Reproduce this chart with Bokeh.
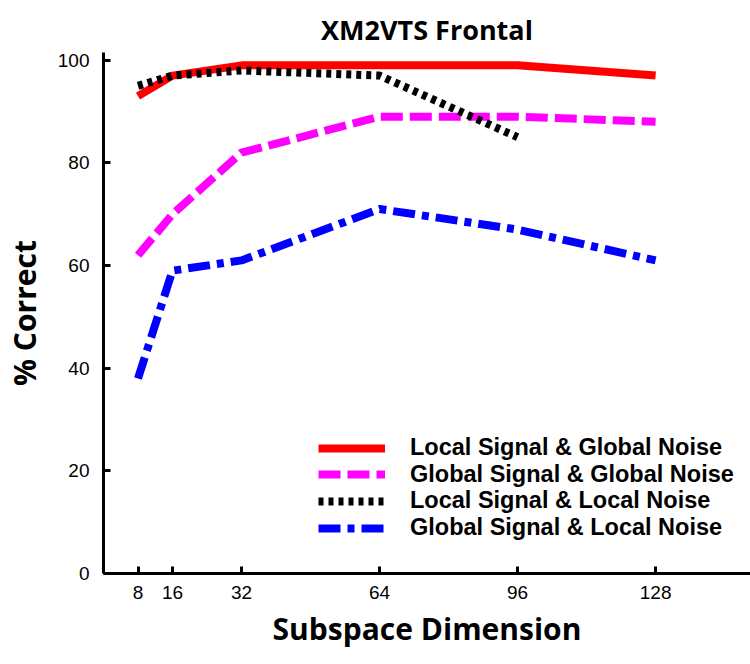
from bokeh.plotting import figure
from bokeh.models import Range1d, FixedTicker, Legend, LegendItem
from bokeh.embed import file_html
from bokeh.resources import INLINE

dims = [8, 16, 32, 64, 96, 128]
local_sig_global_noise = [93, 97, 99, 99, 99, 97]
global_sig_global_noise = [62, 70, 82, 89, 89, 88]
local_sig_local_noise_x = [8, 16, 32, 64, 96]
local_sig_local_noise = [95, 97, 98, 97, 85]
global_sig_local_noise = [38, 59, 61, 71, 67, 61]
y_ticks = [0, 20, 40, 60, 80, 100]
series_labels = ["Local Signal & Global Noise", "Global Signal & Global Noise",
                 "Local Signal & Local Noise", "Global Signal & Local Noise"]

p = figure(width=750, height=664, output_backend="svg", toolbar_location=None,
           x_range=Range1d(0, 150), y_range=Range1d(0, 101.5),
           min_border_left=99, min_border_right=0, min_border_top=52, min_border_bottom=91,
           title="XM2VTS Frontal")
p.outline_line_color = None
p.grid.visible = False
p.title.align = "center"
p.title.text_font = "Open Sans"
p.title.text_font_style = "bold"
p.title.text_font_size = "27px"
p.title.text_color = "black"
p.title.offset = 0
p.title.standoff = 10

for ax in (p.xaxis[0], p.yaxis[0]):
    ax.axis_line_width = 3
    ax.axis_line_color = "black"
    ax.major_tick_in = 7
    ax.major_tick_out = 0
    ax.major_tick_line_width = 3
    ax.minor_tick_line_color = None
    ax.major_label_text_font = "Liberation Sans"
    ax.major_label_text_font_size = "19px"
    ax.major_label_text_color = "black"
    ax.axis_label_text_font = "Open Sans"
    ax.axis_label_text_font_style = "bold"
    ax.axis_label_text_font_size = "30px"
    ax.axis_label_text_color = "black"

p.xaxis[0].ticker = FixedTicker(ticks=dims)
p.yaxis[0].ticker = FixedTicker(ticks=y_ticks)
p.xaxis[0].axis_label = "Subspace Dimension"
p.yaxis[0].axis_label = "% Correct"
p.xaxis[0].major_label_standoff = 12
p.xaxis[0].axis_label_standoff = 6
p.yaxis[0].major_label_standoff = 14
p.yaxis[0].axis_label_standoff = 10

r1 = p.line(dims, local_sig_global_noise, line_color="#ff0000", line_width=8)
r2 = p.line(dims, global_sig_global_noise, line_color="#ff00ff", line_width=8, line_dash="22 7")
r3 = p.line(local_sig_local_noise_x, local_sig_local_noise, line_color="black", line_width=8, line_dash="5 5")
r4 = p.line(dims, global_sig_local_noise, line_color="#0000ff", line_width=8, line_dash="22 7 7 7")

row_bottoms = [112, 85.5, 59, 32]
for lab, rend, yb in zip(series_labels, [r1, r2, r3, r4], row_bottoms):
    lg = Legend(items=[LegendItem(label=lab, renderers=[rend])], location=(215, yb))
    lg.background_fill_alpha = 0
    lg.border_line_color = None
    lg.padding = 0
    lg.margin = 0
    lg.spacing = 0
    lg.glyph_width = 67
    lg.glyph_height = 26
    lg.label_height = 26
    lg.label_standoff = 25
    lg.label_text_font = "Liberation Sans"
    lg.label_text_font_style = "bold"
    lg.label_text_font_size = "23.5px"
    lg.label_text_color = "black"
    lg.label_text_baseline = "middle"
    p.add_layout(lg, "center")

open("out.html", "w").write(file_html(p, INLINE))
